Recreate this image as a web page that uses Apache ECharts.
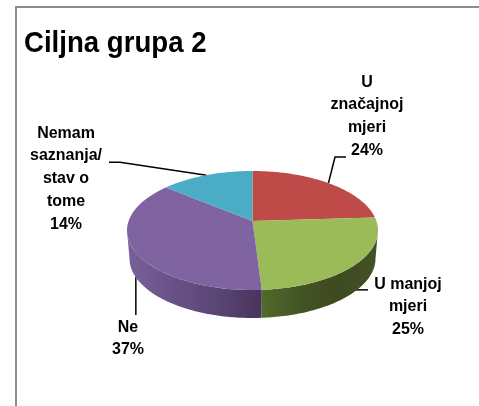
<!DOCTYPE html>
<html>
<head>
<meta charset="utf-8">
<style>html,body{margin:0;padding:0;background:#fff}#c{width:479px;height:406px}</style>
<script src="https://cdn.jsdelivr.net/npm/echarts@6/dist/echarts.min.js"></script>
</head>
<body>
<div id="c"></div>
<script>
const title = 'Ciljna grupa 2';
const categories = ['U značajnoj mjeri', 'U manjoj mjeri', 'Ne', 'Nemam saznanja/ stav o tome'];
const values = [24, 25, 37, 14];
const labelLines = [['U', 'značajnoj', 'mjeri'], ['U manjoj', 'mjeri'], ['Ne'], ['Nemam', 'saznanja/', 'stav o', 'tome']];

const colors = ['#BE4B48', '#9BBB59', '#8064A2', '#4BACC6'];
const sideStops = [null, ['#526a2b', '#435424', '#3e4a20', '#435226'], ['#7a6099', '#6a5289', '#5a4575', '#48345c'], null];

// top ellipse and perspective
const geo = {cx: 252.5, cy: 230.5, rx: 125.5, ry: 59.5, boost: -0.16, depth: 28, rxBottom: 123};
const labelFont = '"Liberation Sans", Arial, sans-serif';
const labelPos = [{x: 367, y: 82}, {x: 408, y: 284}, {x: 128, y: 327}, {x: 66, y: 133}];
const labelGap = 22.8;
// null in a leader point keeps that coordinate of the rim anchor, so the line stays straight
const leaderVia = [[[335, 157], [346, 157]], [[368, null]], [[null, 315]], [[120, 162.3], [109, 162.3]]];
const leaderOnSide = [false, true, true, false];
const leaderLift = [0, 2, 0, 0];

const total = values.reduce((a, b) => a + b, 0);
const starts = [];
values.reduce((a, v, i) => { starts[i] = a; return a + v; }, 0);

function rim(deg, bottom) {
  const t = deg * Math.PI / 180, u = Math.sin(t), v = -Math.cos(t), b = geo.boost;
  const d = 1 + b * v;
  const vp = (v + b) / d, up = u * Math.sqrt(1 - b * b) / d;
  return bottom
    ? [geo.cx + geo.rxBottom * up, geo.cy + geo.depth + geo.ry * vp]
    : [geo.cx + geo.rx * up, geo.cy + geo.ry * vp];
}
const frontA = Math.acos(geo.boost) * 180 / Math.PI; // start of the visible front rim
const frontB = 360 - frontA;

function arc(a, b, bottom) {
  const out = [], n = Math.max(2, Math.ceil(Math.abs(b - a)));
  for (let i = 0; i <= n; i++) out.push(rim(a + (b - a) * i / n, bottom));
  return out;
}

function renderSlice(params, api) {
  const i = params.dataIndex;
  const a = starts[i] / total * 360, b = (starts[i] + api.value(0)) / total * 360;
  const children = [];
  const fa = Math.max(a, frontA), fb = Math.min(b, frontB);
  if (fb > fa && sideStops[i]) {
    const pts = arc(fa, fb, false).concat(arc(fb, fa, true));
    const st = sideStops[i];
    children.push({
      type: 'polygon', shape: {points: pts},
      style: {fill: new echarts.graphic.LinearGradient(0, 0, 1, 0,
        st.map((c, k) => ({offset: k / (st.length - 1), color: c})))}
    });
  }
  const top = [[geo.cx, geo.cy + geo.ry * geo.boost]].concat(arc(a, b, false));
  children.push({type: 'polygon', shape: {points: top}, style: {fill: colors[i]}});
  return {type: 'group', children};
}

function renderLabel(params, api) {
  const i = params.dataIndex;
  const mid = (starts[i] + api.value(0) / 2) / total * 360;
  const p = labelPos[i];
  const children = [];
  const lines = labelLines[i].concat([api.value(0) + '%']);
  lines.forEach((t, k) => children.push({
    type: 'text', x: p.x, y: p.y + k * labelGap, scaleX: 0.94,
    style: {text: t, fill: '#000', font: 'bold 17px ' + labelFont, align: 'center', verticalAlign: 'middle'}
  }));
  const r = rim(mid, leaderOnSide[i]);
  const s = [r[0], r[1] - leaderLift[i]];
  const via = leaderVia[i].map(q => [q[0] === null ? s[0] : q[0], q[1] === null ? s[1] : q[1]]);
  children.push({
    type: 'polyline', shape: {points: [s].concat(via)},
    style: {stroke: '#000', lineWidth: 1.5, fill: null}
  });
  return {type: 'group', children};
}

const chart = echarts.init(document.getElementById('c'), null, {renderer: 'canvas'});
const rows = values.map((v, i) => ({name: categories[i], value: [v]}));
chart.setOption({
  animation: false,
  backgroundColor: '#fff',
  graphic: [
    {type: 'polyline', shape: {points: [[16, 406], [16, 7], [479, 7]]}, style: {stroke: '#8c8c8c', lineWidth: 2, fill: null}},
    {type: 'text', x: 24, y: 44, scaleX: 0.92, style: {text: title, fill: '#000', font: 'bold 30px ' + labelFont, verticalAlign: 'middle'}}
  ],
  series: [
    {type: 'custom', coordinateSystem: 'none', renderItem: renderSlice, data: rows, z: 2, silent: true},
    {type: 'custom', coordinateSystem: 'none', renderItem: renderLabel, data: rows, z: 1, silent: true}
  ]
});
</script>
</body>
</html>
